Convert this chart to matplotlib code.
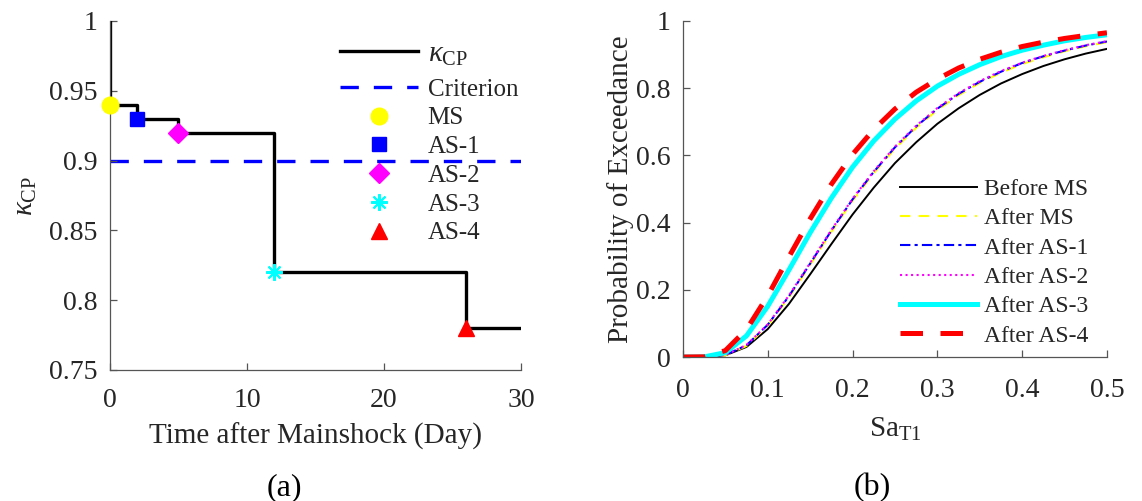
import numpy as np
import matplotlib
matplotlib.use("Agg")
import matplotlib.pyplot as plt
from matplotlib.lines import Line2D

plt.rcParams["font.family"] = ["Liberation Serif", "DejaVu Serif"]
plt.rcParams["mathtext.fontset"] = "custom"
plt.rcParams["mathtext.rm"] = "Liberation Serif"
plt.rcParams["mathtext.it"] = "Liberation Serif:italic"

# (a) collapse-prevention capacity ratio after each shock
days = [0, 0, 2, 2, 5, 5, 12, 12, 26, 26, 30]
kappa = [1.0, 0.94, 0.94, 0.93, 0.93, 0.92, 0.92, 0.82, 0.82, 0.78, 0.78]
criterion = 0.90
event_names = ["MS", "AS-1", "AS-2", "AS-3", "AS-4"]
event_days = [0, 2, 5, 12, 26]
event_kappa = [0.94, 0.93, 0.92, 0.82, 0.78]

# (b) fragility curves
sa = [0.0, 0.025, 0.05, 0.075, 0.1, 0.125, 0.15, 0.175, 0.2, 0.225, 0.25,
      0.275, 0.3, 0.325, 0.35, 0.375, 0.4, 0.425, 0.45, 0.475, 0.5]
p_before_ms = [0.0, 0.0001, 0.005, 0.030, 0.083, 0.158, 0.246, 0.336, 0.424, 0.504, 0.577,
               0.639, 0.694, 0.740, 0.780, 0.814, 0.842, 0.866, 0.886, 0.903, 0.917]
p_after_ms = [0.0, 0.0001, 0.005, 0.033, 0.093, 0.177, 0.274, 0.372, 0.465, 0.547, 0.620,
              0.682, 0.735, 0.779, 0.816, 0.846, 0.872, 0.892, 0.910, 0.925, 0.937]
p_after_as1 = [0.0, 0.0001, 0.006, 0.035, 0.096, 0.181, 0.278, 0.376, 0.469, 0.551, 0.624,
               0.686, 0.739, 0.783, 0.819, 0.849, 0.875, 0.895, 0.912, 0.927, 0.939]
p_after_as2 = [0.0, 0.0001, 0.006, 0.036, 0.097, 0.183, 0.280, 0.378, 0.471, 0.553, 0.626,
               0.688, 0.741, 0.785, 0.821, 0.851, 0.876, 0.896, 0.913, 0.928, 0.940]
p_after_as3 = [0.0, 0.0003, 0.013, 0.063, 0.151, 0.259, 0.370, 0.473, 0.565, 0.643, 0.708,
               0.762, 0.806, 0.841, 0.870, 0.894, 0.913, 0.928, 0.941, 0.951, 0.959]
p_after_as4 = [0.0, 0.0006, 0.019, 0.082, 0.182, 0.298, 0.411, 0.514, 0.603, 0.677, 0.738,
               0.788, 0.827, 0.860, 0.886, 0.907, 0.924, 0.937, 0.948, 0.957, 0.965]

FS = 20
GRAY = "#555555"
TXT = "#262626"

fig = plt.figure(figsize=(11.42, 5.01), dpi=100)
ax1 = fig.add_axes([0.0963, 0.2615, 0.360, 0.6966])
ax2 = fig.add_axes([0.598, 0.2874, 0.3713, 0.6707])

for ax in (ax1, ax2):
    for s in ("top", "right"):
        ax.spines[s].set_visible(False)
    for s in ("left", "bottom"):
        ax.spines[s].set_color(GRAY)
        ax.spines[s].set_linewidth(0.9)
    ax.tick_params(direction="in", length=5, width=0.9, color=GRAY,
                   labelsize=FS, labelcolor=TXT)
    ax.tick_params(axis="y", pad=9)
ax1.tick_params(axis="x", pad=13)
ax2.tick_params(axis="x", pad=15)

# ---- (a)
ax1.plot(days, kappa, color="k", lw=2.4, zorder=2)
ax1.axhline(criterion, color="#0000ff", lw=2.4, dashes=(5.5, 4.5), zorder=1)
styles = [dict(marker="o", color="#ffff00", ms=12),
          dict(marker="s", color="#0000ff", ms=10),
          dict(marker="D", color="#ff00ff", ms=10),
          dict(marker=(8, 2, 0), color="#00ffff", ms=12, mew=1.5),
          dict(marker="^", color="#ff0000", ms=12)]
k_handle = Line2D([], [], color="k", lw=2.4, label=r"$\kappa_{\mathrm{CP}}$")
handles = [Line2D([], [], color="#0000ff", lw=2.4, dashes=(5.5, 4.5), label="Criterion")]
for d, k, name, st in zip(event_days, event_kappa, event_names, styles):
    st = dict(st)
    ms = st.pop("ms")
    mew = st.pop("mew", 1.0)
    ax1.plot([d], [k], ls="none", ms=ms, mew=mew, mec=st["color"], mfc=st["color"],
             marker=st["marker"], zorder=3, clip_on=False)
    handles.append(Line2D([], [], ls="none", marker=st["marker"], ms=ms, mew=mew,
                          color=st["color"], label=name))
ax1.set_xlim(0, 30)
ax1.set_ylim(0.75, 1.0)
ax1.set_xticks([0, 10, 20, 30])
ax1.set_yticks([0.75, 0.8, 0.85, 0.9, 0.95, 1.0])
ax1.set_yticklabels(["0.75", "0.8", "0.85", "0.9", "0.95", "1"])
ax1.set_xlabel("Time after Mainshock (Day)", fontsize=21, color=TXT, labelpad=7)
ax1.set_ylabel(r"$\kappa_{\mathrm{CP}}$", fontsize=21, color=TXT, labelpad=7)
leg_k = ax1.legend(handles=[k_handle], loc="upper left", bbox_to_anchor=(0.56, 0.943),
                   frameon=False, fontsize=21, handlelength=2.66, handletextpad=0.35,
                   borderaxespad=0, borderpad=0)
leg_k.get_texts()[0].set_color(TXT)
ax1.add_artist(leg_k)
leg1 = ax1.legend(handles=handles, loc="upper left", bbox_to_anchor=(0.56, 0.836),
                  frameon=False, fontsize=18, handlelength=3.1, handletextpad=0.4,
                  labelspacing=0.25, borderaxespad=0, borderpad=0)
for t in leg1.get_texts():
    t.set_color(TXT)

# ---- (b)
ax2.plot(sa, p_before_ms, color="k", lw=1.4, label="Before MS")
ax2.plot(sa, p_after_ms, color="#ffff00", lw=1.5, dashes=(5, 4), label="After MS")
ax2.plot(sa, p_after_as1, color="#0000ff", lw=1.5, dashes=(5, 2, 1.5, 2), label="After AS-1")
ax2.plot(sa, p_after_as2, color="#ff00ff", lw=1.5, ls=":", label="After AS-2")
ax2.plot(sa, p_after_as3, color="#00ffff", lw=3.6, label="After AS-3")
ax2.plot(sa, p_after_as4, color="#ff0000", lw=3.6, dashes=(4.5, 3.5), label="After AS-4")
ax2.set_xlim(0, 0.5)
ax2.set_ylim(0, 1)
ax2.set_xticks([0, 0.1, 0.2, 0.3, 0.4, 0.5])
ax2.set_xticklabels(["0", "0.1", "0.2", "0.3", "0.4", "0.5"])
ax2.set_yticks([0, 0.2, 0.4, 0.6, 0.8, 1.0])
ax2.set_yticklabels(["0", "0.2", "0.4", "0.6", "0.8", "1"])
ax2.set_xlabel(r"$\mathrm{Sa}_{\mathrm{T1}}$", fontsize=21, color=TXT, labelpad=9)
ax2.set_ylabel("Probability of Exceedance", fontsize=21, color=TXT, labelpad=1)
leg2 = ax2.legend(loc="upper left", bbox_to_anchor=(0.512, 0.531), frameon=False,
                  fontsize=17, handlelength=3.26, handletextpad=0.3,
                  labelspacing=0.33, borderaxespad=0, borderpad=0)
for t in leg2.get_texts():
    t.set_color(TXT)

fig.text(0.249, 0.026, "(a)", fontsize=23, ha="center", va="center", color="k")
fig.text(0.764, 0.026, "(b)", fontsize=23, ha="center", va="center", color="k")

fig.savefig("out.png", dpi=100)
